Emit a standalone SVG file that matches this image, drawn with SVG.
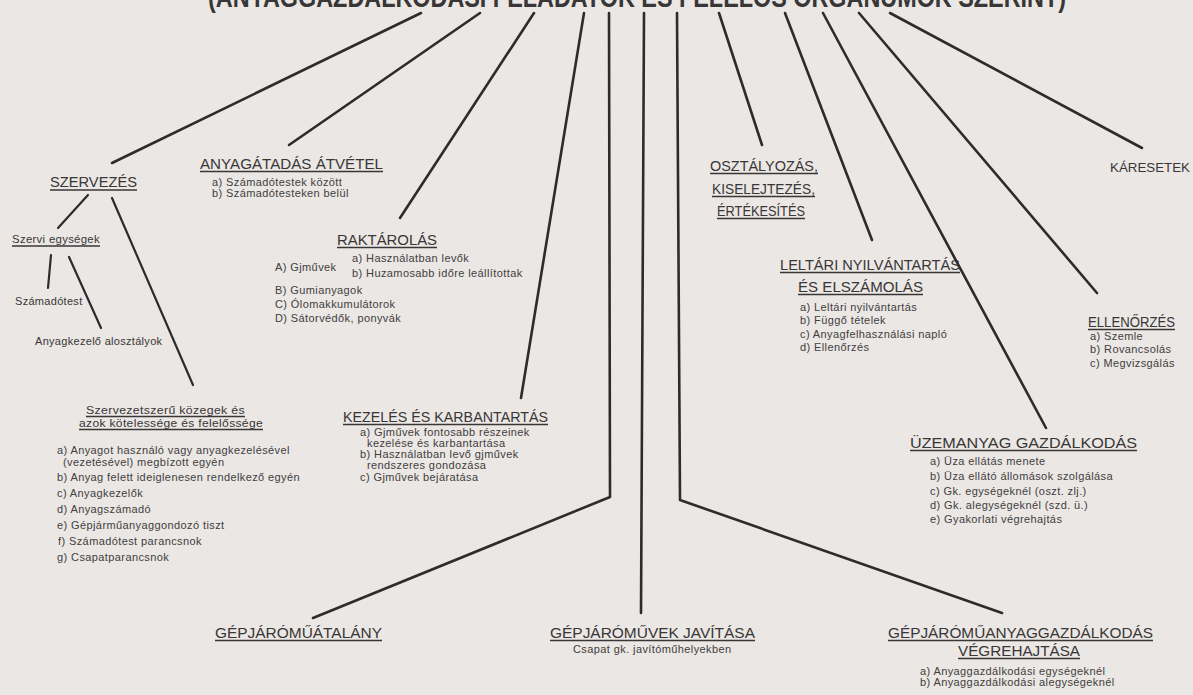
<svg xmlns="http://www.w3.org/2000/svg" width="1193" height="695" viewBox="0 0 1193 695">
<defs>
<style>
text{font-family:"Liberation Sans",Arial,sans-serif;fill:#383636}
.t{font-size:30px;font-weight:bold}
.h{font-size:15.5px}
.s{font-size:11px;letter-spacing:0.3px}
.i{font-size:11px;fill:#414040;letter-spacing:0.4px}
.ul{stroke:#383636;stroke-width:1.3}
.c{stroke:#2d2c2c;stroke-width:2.6;fill:none;stroke-linecap:round;stroke-linejoin:round}
.c2{stroke:#2d2c2c;stroke-width:2.2;fill:none;stroke-linecap:round}
</style>
</defs>
<rect width="1193" height="695" fill="#ebe7e4"/>
<g id="title"><text class="t" x="208" y="7" textLength="858" lengthAdjust="spacingAndGlyphs">(ANYAGGAZDÁLKODÁSI FELADATOK ÉS FELELŐS ORGÁNUMOK SZERINT)</text></g>
<g id="connectors">
<line class="c" x1="421" y1="13" x2="112" y2="163"/>
<line class="c" x1="480" y1="13" x2="289" y2="145"/>
<line class="c" x1="534" y1="13" x2="400" y2="218"/>
<line class="c" x1="584" y1="13" x2="521" y2="398"/>
<polyline class="c" points="609,13 610,497 313,618"/>
<line class="c" x1="644" y1="13" x2="641" y2="613"/>
<polyline class="c" points="677,13 680,500 1002,613"/>
<line class="c" x1="719" y1="13" x2="762" y2="145"/>
<line class="c" x1="785" y1="13" x2="872" y2="240"/>
<line class="c" x1="823" y1="13" x2="1046" y2="428"/>
<line class="c" x1="859" y1="13" x2="1097" y2="293"/>
<line class="c" x1="890" y1="13" x2="1142" y2="148"/>
<line class="c2" x1="88" y1="195" x2="58" y2="228"/>
<line class="c2" x1="112" y1="198" x2="193" y2="385"/>
<line class="c2" x1="51" y1="255" x2="48" y2="288"/>
<line class="c2" x1="69" y1="257" x2="101" y2="328"/>
</g>
<g id="szervezes"><text class="h" x="50" y="187" textLength="87" lengthAdjust="spacingAndGlyphs">SZERVEZÉS</text><line class="ul" x1="50" y1="190" x2="137" y2="190"/></g>
<g id="szervi-egysegek"><text class="s" x="12" y="243" textLength="88" lengthAdjust="spacingAndGlyphs">Szervi egységek</text><line class="ul" x1="12" y1="246" x2="100" y2="246"/></g>
<g id="szamadotest"><text class="s" x="15" y="305">Számadótest</text></g>
<g id="anyagkezelo-alosztalyok"><text class="s" x="35" y="345">Anyagkezelő alosztályok</text></g>
<g id="szervezetszeru-kozegek">
<text class="s" x="86" y="414" textLength="159" lengthAdjust="spacingAndGlyphs">Szervezetszerű közegek és</text><line class="ul" x1="86" y1="416.5" x2="245" y2="416.5"/>
<text class="s" x="79" y="427" textLength="184" lengthAdjust="spacingAndGlyphs">azok kötelessége és felelőssége</text><line class="ul" x1="79" y1="429.5" x2="263" y2="429.5"/>
<text class="i" x="57" y="454">a) Anyagot használó vagy anyagkezelésével</text>
<text class="i" x="63" y="466">(vezetésével) megbízott egyén</text>
<text class="i" x="57" y="481">b) Anyag felett ideiglenesen rendelkező egyén</text>
<text class="i" x="57" y="497">c) Anyagkezelők</text>
<text class="i" x="57" y="513">d) Anyagszámadó</text>
<text class="i" x="57" y="529">e) Gépjárműanyaggondozó tiszt</text>
<text class="i" x="58" y="545">f) Számadótest parancsnok</text>
<text class="i" x="57" y="561">g) Csapatparancsnok</text>
</g>
<g id="anyagatadas">
<text class="h" x="200" y="169" textLength="183" lengthAdjust="spacingAndGlyphs">ANYAGÁTADÁS ÁTVÉTEL</text><line class="ul" x1="200" y1="171.5" x2="383" y2="171.5"/>
<text class="i" x="212" y="186">a) Számadótestek között</text>
<text class="i" x="212" y="197">b) Számadótesteken belül</text>
</g>
<g id="raktarolas">
<text class="h" x="337" y="245" textLength="100" lengthAdjust="spacingAndGlyphs">RAKTÁROLÁS</text><line class="ul" x1="337" y1="247.5" x2="437" y2="247.5"/>
<text class="i" x="275" y="271">A) Gjművek</text>
<text class="i" x="352" y="262">a) Használatban levők</text>
<text class="i" x="352" y="277">b) Huzamosabb időre leállítottak</text>
<text class="i" x="275" y="294">B) Gumianyagok</text>
<text class="i" x="275" y="308">C) Ólomakkumulátorok</text>
<text class="i" x="275" y="322">D) Sátorvédők, ponyvák</text>
</g>
<g id="kezeles">
<text class="h" x="343" y="422" textLength="205" lengthAdjust="spacingAndGlyphs">KEZELÉS ÉS KARBANTARTÁS</text><line class="ul" x1="343" y1="424.5" x2="548" y2="424.5"/>
<text class="i" x="360" y="436">a) Gjművek fontosabb részeinek</text>
<text class="i" x="367" y="447">kezelése és karbantartása</text>
<text class="i" x="360" y="458">b) Használatban levő gjművek</text>
<text class="i" x="367" y="469">rendszeres gondozása</text>
<text class="i" x="360" y="481">c) Gjművek bejáratása</text>
</g>
<g id="osztalyozas">
<text class="h" x="710" y="171" textLength="108" lengthAdjust="spacingAndGlyphs">OSZTÁLYOZÁS,</text><line class="ul" x1="710" y1="173.5" x2="818" y2="173.5"/>
<text class="h" x="712" y="194" textLength="103" lengthAdjust="spacingAndGlyphs">KISELEJTEZÉS,</text><line class="ul" x1="712" y1="196.5" x2="815" y2="196.5"/>
<text class="h" x="717" y="216" textLength="88" lengthAdjust="spacingAndGlyphs">ÉRTÉKESÍTÉS</text><line class="ul" x1="717" y1="218.5" x2="805" y2="218.5"/>
</g>
<g id="leltari">
<text class="h" x="780" y="270" textLength="180" lengthAdjust="spacingAndGlyphs">LELTÁRI NYILVÁNTARTÁS</text><line class="ul" x1="780" y1="272.5" x2="960" y2="272.5"/>
<text class="h" x="798" y="292" textLength="125" lengthAdjust="spacingAndGlyphs">ÉS ELSZÁMOLÁS</text><line class="ul" x1="798" y1="294.5" x2="923" y2="294.5"/>
<text class="i" x="800" y="311">a) Leltári nyilvántartás</text>
<text class="i" x="800" y="324">b) Függő tételek</text>
<text class="i" x="800" y="338">c) Anyagfelhasználási napló</text>
<text class="i" x="800" y="351">d) Ellenőrzés</text>
</g>
<g id="ellenorzes">
<text class="h" x="1088" y="327" textLength="87" lengthAdjust="spacingAndGlyphs">ELLENŐRZÉS</text><line class="ul" x1="1088" y1="329.5" x2="1175" y2="329.5"/>
<text class="i" x="1090" y="340">a) Szemle</text>
<text class="i" x="1090" y="353">b) Rovancsolás</text>
<text class="i" x="1090" y="367">c) Megvizsgálás</text>
</g>
<g id="karesetek"><text x="1110" y="172" style="font-size:13.5px" textLength="80" lengthAdjust="spacingAndGlyphs">KÁRESETEK</text></g>
<g id="uzemanyag">
<text class="h" x="910" y="448" textLength="227" lengthAdjust="spacingAndGlyphs">ÜZEMANYAG  GAZDÁLKODÁS</text><line class="ul" x1="910" y1="450.5" x2="1137" y2="450.5"/>
<text class="i" x="930" y="465">a) Üza ellátás menete</text>
<text class="i" x="930" y="480">b) Üza ellátó állomások szolgálása</text>
<text class="i" x="930" y="495">c) Gk. egységeknél (oszt. zlj.)</text>
<text class="i" x="930" y="509">d) Gk. alegységeknél (szd. ü.)</text>
<text class="i" x="930" y="523">e) Gyakorlati végrehajtás</text>
</g>
<g id="atalany"><text class="h" x="215" y="638" textLength="167" lengthAdjust="spacingAndGlyphs">GÉPJÁRÓMŰÁTALÁNY</text><line class="ul" x1="215" y1="640.5" x2="382" y2="640.5"/></g>
<g id="javitas">
<text class="h" x="550" y="638" textLength="205" lengthAdjust="spacingAndGlyphs">GÉPJÁRÓMŰVEK JAVÍTÁSA</text><line class="ul" x1="550" y1="640.5" x2="755" y2="640.5"/>
<text class="i" x="573" y="653">Csapat gk. javítóműhelyekben</text>
</g>
<g id="vegrehajtas">
<text class="h" x="888" y="638" textLength="265" lengthAdjust="spacingAndGlyphs">GÉPJÁRÓMŰANYAGGAZDÁLKODÁS</text><line class="ul" x1="888" y1="640.5" x2="1153" y2="640.5"/>
<text class="h" x="958" y="656" textLength="122" lengthAdjust="spacingAndGlyphs">VÉGREHAJTÁSA</text><line class="ul" x1="958" y1="658.5" x2="1080" y2="658.5"/>
<text class="i" x="920" y="675">a) Anyaggazdálkodási egységeknél</text>
<text class="i" x="920" y="686">b) Anyaggazdálkodási alegységeknél</text>
</g>
</svg>
